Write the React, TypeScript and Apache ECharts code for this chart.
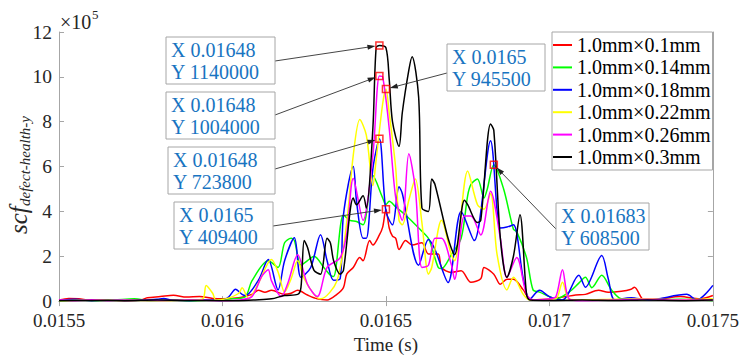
import React, { useEffect, useRef } from "react";
import * as echarts from "echarts";

const FONT = "Liberation Serif, serif";

const seriesNames = [
  "1.0mm×0.1mm",
  "1.0mm×0.14mm",
  "1.0mm×0.18mm",
  "1.0mm×0.22mm",
  "1.0mm×0.26mm",
  "1.0mm×0.3mm",
];
const seriesColors = ["#ff0000", "#00ff00", "#0000ff", "#ffff00", "#ff00ff", "#000000"];

// values in units of 1e5
const redData: [number, number][] = [
  [0.0155, 0.05], [0.01553, 0.12], [0.01556, 0.1], [0.0156, 0.03], [0.01565, 0.06], [0.0157, 0.02],
  [0.01575, 0.05], [0.01577, 0.15], [0.01581, 0.2], [0.01585, 0.26], [0.01589, 0.18], [0.01593, 0.2],
  [0.01597, 0.12], [0.016, 0.1], [0.01605, 0.15], [0.01609, 0.3], [0.01611, 0.48], [0.01613, 0.4],
  [0.01615, 0.48], [0.01619, 0.3], [0.01621, 0.35], [0.01623, 0.48], [0.01626, 0.27], [0.01629, 0.1],
  [0.01632, 0.05], [0.01635, 0.3], [0.01637, 0.6], [0.01638, 1.2], [0.0164, 1.5], [0.01642, 1.94],
  [0.01643, 1.8], [0.01645, 2.7], [0.01646, 2.5], [0.01648, 2.95], [0.01649, 3.3], [0.0165, 4.094],
  [0.01651, 3.26], [0.01652, 2.9], [0.01653, 2.8], [0.01654, 2.3], [0.01656, 2.7], [0.01658, 2.5],
  [0.01661, 2.6], [0.01663, 2.1], [0.01666, 2.1], [0.01667, 1.5], [0.0167, 1.28], [0.01673, 1.35],
  [0.01676, 0.84], [0.01679, 1.0], [0.0168, 1.5], [0.01683, 1.2], [0.01685, 0.75], [0.01687, 0.97],
  [0.01689, 0.97], [0.01692, 0.5], [0.01694, 0.1], [0.01697, 0.05], [0.017, 0.08], [0.01705, 0.2],
  [0.01708, 0.27], [0.01711, 0.3], [0.01715, 0.48], [0.01718, 0.4], [0.01722, 0.44], [0.01725, 0.53],
  [0.01726, 0.62], [0.01729, 0.05], [0.01734, 0.1], [0.0174, 0.2], [0.01746, 0.1], [0.0175, 0.25],
];

const greenData: [number, number][] = [
  [0.0155, 0.02], [0.01556, 0.05], [0.0156, 0.02], [0.01567, 0.05], [0.01573, 0.1], [0.01578, 0.02],
  [0.01585, 0.05], [0.0159, 0.0], [0.01597, 0.05], [0.01603, 0.1], [0.01607, 0.2], [0.01609, 0.9],
  [0.01614, 1.8], [0.01617, 1.5], [0.01619, 2.6], [0.01621, 2.8], [0.01622, 2.7], [0.01624, 1.6],
  [0.01626, 1.8], [0.01628, 2.0], [0.01631, 1.5], [0.01633, 1.15], [0.01634, 1.1], [0.01637, 3.84],
  [0.01639, 3.6], [0.01641, 3.55], [0.01643, 3.4], [0.01646, 5.6], [0.01649, 4.6], [0.0165, 4.3],
  [0.01651, 4.45], [0.01653, 4.2], [0.01656, 3.84], [0.0166, 3.26], [0.01663, 2.8], [0.01664, 2.4],
  [0.01666, 1.5], [0.01667, 1.45], [0.0167, 2.07], [0.01673, 2.8], [0.01675, 4.7], [0.01676, 5.2],
  [0.01678, 5.45], [0.0168, 4.6], [0.01681, 5.0], [0.01683, 6.085], [0.01686, 5.0], [0.01689, 3.2],
  [0.0169, 3.1], [0.01693, 1.94], [0.01695, 0.5], [0.01697, 0.4], [0.017, 0.2], [0.01702, 0.1],
  [0.01706, 0.4], [0.01709, 0.8], [0.01711, 1.06], [0.01713, 0.6], [0.01716, 1.15], [0.01719, 0.5],
  [0.01722, 0.1], [0.0173, 0.05], [0.0174, 0.08], [0.0175, 0.02],
];

const blueData: [number, number][] = [
  [0.0155, 0.03], [0.01555, 0.08], [0.0156, 0.02], [0.01565, 0.05], [0.0157, 0.02], [0.01575, 0.04],
  [0.0158, 0.08], [0.01582, 0.12], [0.01585, 0.03], [0.0159, 0.02], [0.01595, 0.05], [0.016, 0.03],
  [0.01602, 0.2], [0.01604, 0.53], [0.01606, 0.3], [0.01607, 0.25], [0.01611, 0.93], [0.01614, 1.85],
  [0.01617, 0.5], [0.01619, 1.8], [0.01622, 2.82], [0.01624, 1.06], [0.01627, 1.5], [0.0163, 2.96],
  [0.01632, 1.8], [0.01634, 0.93], [0.01636, 1.0], [0.01637, 3.84], [0.0164, 6.0], [0.01641, 4.45],
  [0.01643, 2.8], [0.01644, 2.8], [0.01646, 5.9], [0.01648, 7.238], [0.0165, 4.0], [0.01652, 3.4],
  [0.01654, 5.1], [0.01655, 4.8], [0.0166, 1.6], [0.01663, 2.75], [0.01665, 2.3], [0.01669, 0.83],
  [0.01673, 4.0], [0.01677, 2.7], [0.01682, 7.15], [0.01685, 3.26], [0.01687, 3.3], [0.01689, 3.4],
  [0.01692, 1.0], [0.01694, 0.1], [0.01697, 0.48], [0.017, 0.2], [0.01704, 0.05], [0.01709, 1.15],
  [0.01711, 0.62], [0.01716, 2.03], [0.01718, 1.0], [0.0172, 0.05], [0.01725, 0.15], [0.0173, 0.05],
  [0.01742, 0.3], [0.01745, 0.05], [0.0175, 0.7],
];

const yellowData: [number, number][] = [
  [0.0155, 0.02], [0.0156, 0.05], [0.0157, 0.03], [0.0158, 0.02], [0.0159, 0.04], [0.01594, 0.1],
  [0.01595, 0.7], [0.01597, 0.35], [0.01598, 0.05], [0.01601, 0.1], [0.01605, 0.35], [0.01606, 0.6],
  [0.01608, 0.1], [0.01611, 0.8], [0.01615, 1.85], [0.01617, 1.3], [0.01619, 0.4], [0.01621, 1.0],
  [0.01623, 1.8], [0.01625, 1.0], [0.01628, 0.3], [0.0163, 0.1], [0.01635, 0.9], [0.01638, 3.5],
  [0.0164, 6.5], [0.01642, 8.1], [0.01644, 7.4], [0.01646, 5.15], [0.01647, 6.3], [0.01649, 8.8],
  [0.0165, 9.455], [0.01651, 8.4], [0.01653, 5.9], [0.01654, 3.6], [0.01655, 3.4], [0.01657, 4.5],
  [0.01659, 5.45], [0.01661, 3.5], [0.01663, 1.2], [0.01664, 1.5], [0.01667, 3.6], [0.0167, 2.07],
  [0.01671, 1.8], [0.01675, 5.8], [0.01678, 4.3], [0.0168, 4.1], [0.01682, 4.8], [0.01684, 2.07],
  [0.01687, 0.5], [0.01689, 1.06], [0.01692, 0.3], [0.01694, 0.05], [0.017, 0.1], [0.01702, 0.1],
  [0.01704, 0.84], [0.01706, 0.1], [0.0171, 0.05], [0.0172, 0.08], [0.0173, 0.1], [0.0174, 0.05],
  [0.0175, 0.1],
];

const magentaData: [number, number][] = [
  [0.0155, 0.05], [0.01555, 0.02], [0.0156, 0.06], [0.01565, 0.02], [0.0157, 0.05], [0.0158, 0.03],
  [0.0159, 0.05], [0.016, 0.02], [0.01605, 0.05], [0.01609, 0.2], [0.01612, 1.1], [0.01614, 1.4],
  [0.01615, 0.9], [0.01618, 0.2], [0.0162, 0.8], [0.01623, 2.07], [0.01626, 0.75], [0.01629, 0.2],
  [0.01632, 1.5], [0.01636, 1.94], [0.01638, 3.0], [0.0164, 5.47], [0.01643, 3.6], [0.01646, 6.5],
  [0.01648, 10.04], [0.01649, 10.0], [0.01651, 7.7], [0.01653, 4.6], [0.01655, 3.6], [0.01657, 6.57],
  [0.01659, 5.0], [0.01661, 1.5], [0.01663, 1.6], [0.01665, 2.8], [0.01667, 2.8], [0.0167, 1.63],
  [0.01671, 0.97], [0.01674, 3.8], [0.01676, 3.8], [0.01679, 2.95], [0.01682, 4.9], [0.01685, 2.8],
  [0.01687, 1.06], [0.0169, 1.94], [0.01693, 0.3], [0.01695, 0.05], [0.017, 0.1], [0.01702, 0.2],
  [0.01704, 1.4], [0.01706, 0.1], [0.0171, 0.02], [0.0172, 0.05], [0.0173, 0.08], [0.0174, 0.05],
  [0.0175, 0.05],
];

const blackData: [number, number][] = [
  [0.0155, 0.02], [0.0156, 0.03], [0.0157, 0.02], [0.0158, 0.05], [0.0159, 0.03], [0.016, 0.02],
  [0.01605, 0.02], [0.0161, 0.05], [0.01615, 0.1], [0.01619, 0.25], [0.01623, 0.3], [0.01624, 0.6],
  [0.01625, 2.7], [0.01626, 2.4], [0.01628, 1.37], [0.0163, 1.2], [0.01632, 2.8], [0.01633, 2.6],
  [0.01634, 1.8], [0.01636, 1.2], [0.01637, 1.37], [0.0164, 4.6], [0.01641, 4.3], [0.01643, 4.7],
  [0.01644, 4.15], [0.01646, 7.7], [0.01647, 11.3], [0.01648, 11.4], [0.0165, 11.3], [0.01651, 9.9],
  [0.01652, 8.0], [0.01654, 6.9], [0.01655, 8.4], [0.01657, 10.3], [0.01658, 10.9], [0.0166, 9.1],
  [0.01661, 4.15], [0.01663, 4.0], [0.01664, 5.45], [0.01665, 5.2], [0.01669, 2.8], [0.01671, 2.07],
  [0.01674, 4.5], [0.01675, 4.3], [0.01678, 3.5], [0.01679, 3.6], [0.01682, 7.9], [0.01683, 7.6],
  [0.01685, 2.8], [0.01687, 1.06], [0.01689, 2.0], [0.01691, 3.85], [0.01693, 0.3], [0.01694, 0.05],
  [0.017, 0.03], [0.0171, 0.05], [0.0172, 0.03], [0.0173, 0.05], [0.0174, 0.02], [0.0175, 0.05],
];

const allData = [redData, greenData, blueData, yellowData, magentaData, blackData];

// datatips
const tipX = [0.01648, 0.01648, 0.01648, 0.0165, 0.0165, 0.01683];
const tipY = [11.4, 10.04, 7.238, 4.094, 9.455, 6.085];

const xMin = 0.0155;
const xMax = 0.0175;
const xStep = 0.0005;
const yMin = 0;
const yMax = 12;
const yStep = 2;

// datatip box layout (pixels) and arrow start points
const tipBoxes = [
  { x: 166, y: 37, w: 109, h: 47, sx: 275, sy: 61 },
  { x: 166, y: 92, w: 109, h: 47, sx: 275, sy: 115 },
  { x: 168, y: 147, w: 107, h: 47, sx: 275, sy: 169 },
  { x: 174, y: 202, w: 99, h: 47, sx: 273, sy: 226 },
  { x: 447, y: 44, w: 98, h: 47, sx: 447, sy: 73 },
  { x: 556, y: 203, w: 93, h: 47, sx: 556, sy: 229 },
];

const AXIS_GRAY = "#a6a6a6";
const TEXT_DARK = "#262626";
const TIP_BLUE = "#1874c1";

function fmtX(v: number) {
  return String(parseFloat(v.toFixed(5)));
}

export default function App() {
  const ref = useRef<HTMLDivElement>(null);
  useEffect(() => {
    if (!ref.current) return;
    const chart = echarts.init(ref.current, null, { renderer: "svg" });
    const axisCommon = {
      axisLine: { show: true, lineStyle: { color: AXIS_GRAY, width: 1 } },
      axisTick: { show: true, inside: true, length: 5, lineStyle: { color: AXIS_GRAY } },
      splitLine: { show: false },
    };
    const lineSeries = allData.map((d, i) => ({
      type: "line",
      name: seriesNames[i],
      data: d,
      showSymbol: false,
      symbol: "none",
      smooth: 0.3,
      lineStyle: { color: seriesColors[i], width: 1.5 },
      itemStyle: { color: seriesColors[i] },
      z: 2 + i,
    }));
    const option: any = {
      animation: false,
      grid: { left: 59, right: 29, top: 32, bottom: 55, containLabel: false },
      legend: {
        data: seriesNames,
        orient: "vertical",
        left: 552,
        top: 32,
        icon: "rect",
        itemWidth: 19,
        itemHeight: 2,
        itemGap: 2.4,
        padding: [3, 2, 3, 1],
        borderColor: AXIS_GRAY,
        borderWidth: 1,
        borderRadius: 0,
        backgroundColor: "#ffffff",
        selectedMode: false,
        textStyle: { fontFamily: FONT, fontSize: 20, color: "#000", lineHeight: 20 },
        z: 20,
      },
      xAxis: [
        {
          type: "value",
          min: xMin,
          max: xMax,
          interval: xStep,
          ...axisCommon,
          axisLabel: {
            color: TEXT_DARK,
            fontSize: 19,
            fontFamily: FONT,
            margin: 12,
            lineHeight: 15,
            formatter: (v: number) => fmtX(v),
          },
          name: "Time (s)",
          nameLocation: "middle",
          nameGap: 32,
          nameTextStyle: { color: TEXT_DARK, fontSize: 19, fontFamily: FONT },
        },
        {
          type: "value",
          position: "top",
          min: xMin,
          max: xMax,
          interval: xStep,
          ...axisCommon,
          axisLabel: { show: false },
        },
      ],
      yAxis: [
        {
          type: "value",
          min: yMin,
          max: yMax,
          interval: yStep,
          ...axisCommon,
          axisLabel: { color: TEXT_DARK, fontSize: 19.5, fontFamily: FONT, margin: 7, lineHeight: 14 },
        },
        {
          type: "value",
          position: "right",
          min: yMin,
          max: yMax,
          interval: yStep,
          ...axisCommon,
          axisLabel: { show: false },
        },
      ],
      series: [
        ...lineSeries,
        {
          type: "scatter",
          name: "tips",
          data: tipX.map((x, i) => [x, tipY[i]]),
          symbol: "rect",
          symbolSize: 7,
          itemStyle: { color: "rgba(255,255,255,0)", borderColor: "#ff0000", borderWidth: 1.5 },
          z: 15,
          silent: true,
        },
      ],
    };
    chart.setOption(option);

    const graphics: any[] = [];
    // ×10^5
    graphics.push({
      type: "text",
      x: 60,
      y: 22,
      style: { text: "×10", font: `20px ${FONT}`, fill: TEXT_DARK, align: "left", verticalAlign: "middle" },
      z: 50,
    });
    graphics.push({
      type: "text",
      x: 92,
      y: 14,
      style: { text: "5", font: `13px ${FONT}`, fill: TEXT_DARK, align: "left", verticalAlign: "middle" },
      z: 50,
    });
    // y axis title
    graphics.push({
      type: "group",
      x: 18,
      y: 234,
      rotation: Math.PI / 2,
      z: 50,
      children: [
        {
          type: "text",
          x: 0,
          y: 0,
          style: { text: "scf", font: `italic 25px ${FONT}`, fill: TEXT_DARK, align: "left", verticalAlign: "middle" },
        },
        {
          type: "text",
          x: 28,
          y: 7,
          style: { text: "defect-health-y", font: `italic 15px ${FONT}`, fill: TEXT_DARK, align: "left", verticalAlign: "middle" },
        },
      ],
    });

    tipBoxes.forEach((b, i) => {
      const p = chart.convertToPixel({ xAxisIndex: 0, yAxisIndex: 0 }, [tipX[i], tipY[i]]) as number[];
      const dx = p[0] - b.sx;
      const dy = p[1] - b.sy;
      const len = Math.sqrt(dx * dx + dy * dy) || 1;
      const ux = dx / len;
      const uy = dy / len;
      const tx = p[0] - ux * 4;
      const ty = p[1] - uy * 4;
      const nx = -uy;
      const ny = ux;
      const hl = 8;
      const hw = 2.6;
      graphics.push({
        type: "line",
        shape: { x1: b.sx, y1: b.sy, x2: tx - ux * 5, y2: ty - uy * 5 },
        style: { stroke: "#303030", lineWidth: 0.9 },
        z: 40,
        silent: true,
      });
      graphics.push({
        type: "polygon",
        shape: {
          points: [
            [tx, ty],
            [tx - ux * hl + nx * hw, ty - uy * hl + ny * hw],
            [tx - ux * hl + nx * -hw, ty - uy * hl + ny * -hw],
          ],
        },
        style: { fill: "#202020" },
        z: 40,
        silent: true,
      });
      graphics.push({
        type: "rect",
        shape: { x: b.x, y: b.y, width: b.w, height: b.h },
        style: { fill: "#ffffff", stroke: AXIS_GRAY, lineWidth: 1 },
        z: 41,
        silent: true,
      });
      graphics.push({
        type: "text",
        x: b.x + 5,
        y: b.y + 13,
        style: { text: "X " + fmtX(tipX[i]), font: `20px ${FONT}`, fill: TIP_BLUE, align: "left", verticalAlign: "middle" },
        z: 42,
        silent: true,
      });
      graphics.push({
        type: "text",
        x: b.x + 5,
        y: b.y + 35,
        style: { text: "Y " + String(Math.round(tipY[i] * 1e5)), font: `20px ${FONT}`, fill: TIP_BLUE, align: "left", verticalAlign: "middle" },
        z: 42,
        silent: true,
      });
    });

    chart.setOption({ graphic: graphics });
    return () => chart.dispose();
  }, []);
  return <div ref={ref} style={{ position: "absolute", left: 0, top: 0, width: 742, height: 359, background: "#fff" }} />;
}
